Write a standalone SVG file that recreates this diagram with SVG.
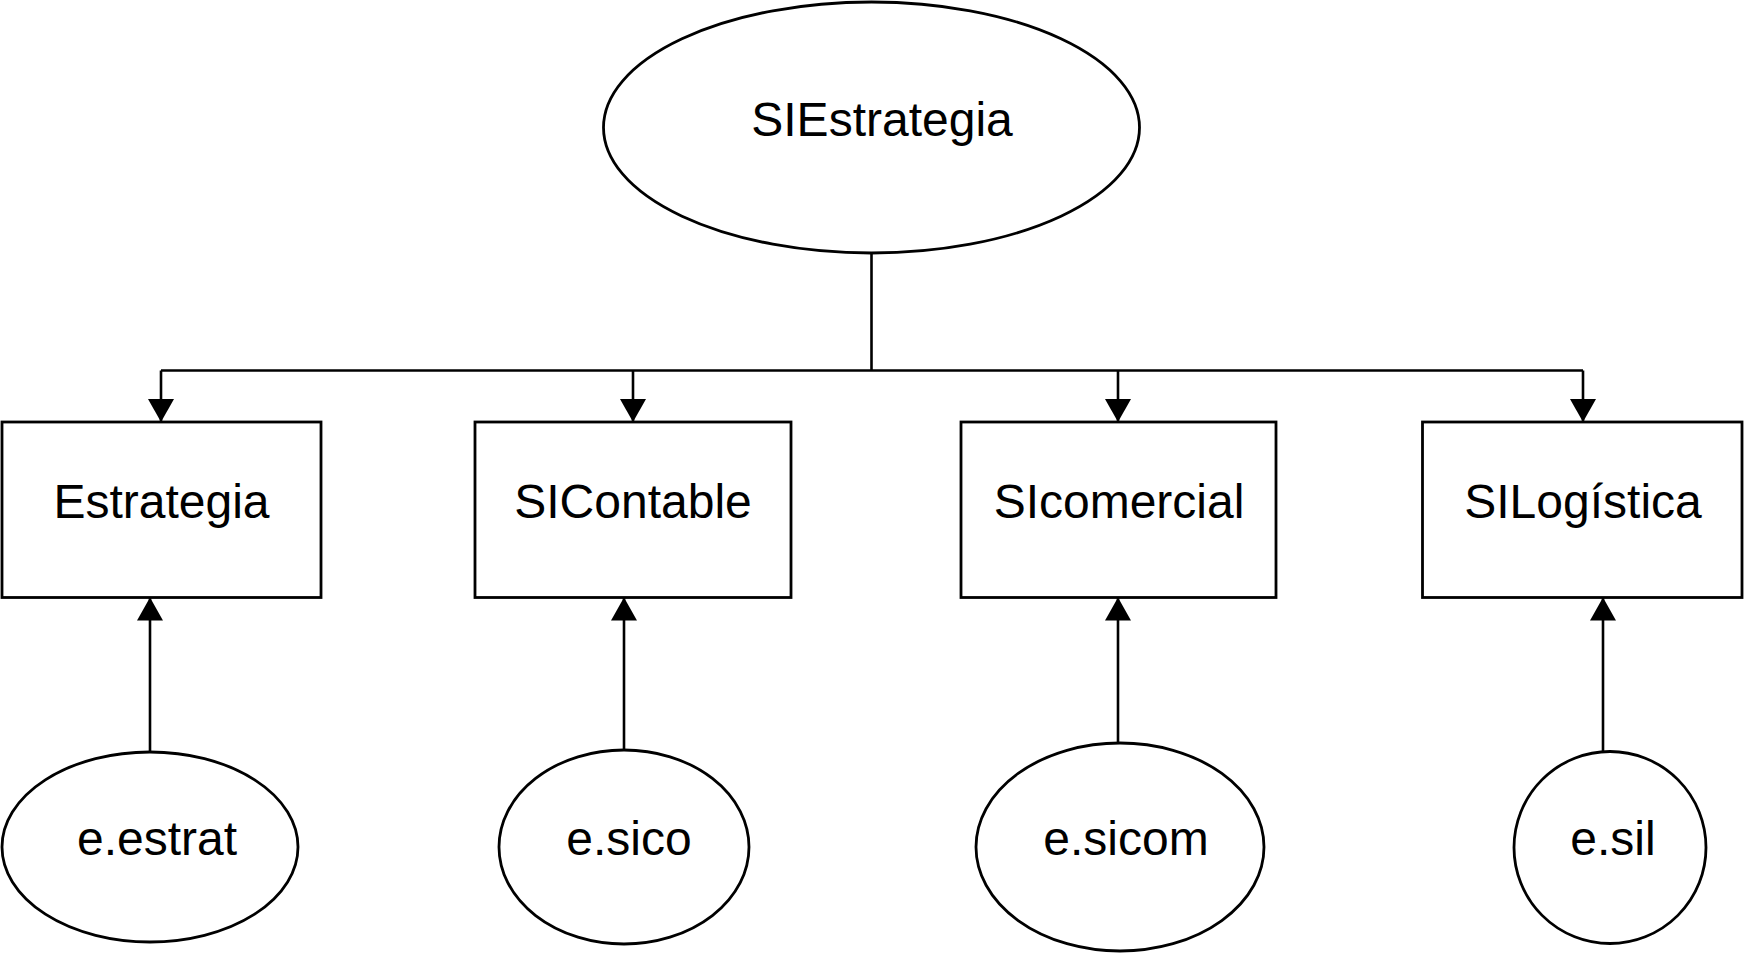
<svg xmlns="http://www.w3.org/2000/svg" width="1744" height="954" viewBox="0 0 1744 954">
  <style>
    .shape { fill: #ffffff; stroke: #000000; stroke-width: 2.8; }
    .conn { fill: none; stroke: #000000; stroke-width: 2.6; }
    .lbl { font-family: "Liberation Sans", Arial, Helvetica, sans-serif; font-size: 48px; fill: #000000; text-anchor: middle; }
  </style>
  <defs>
    <marker id="arrow" viewBox="0 0 23 26" refX="23" refY="13" markerWidth="23" markerHeight="26" markerUnits="userSpaceOnUse" orient="auto">
      <path d="M0,0 L23,13 L0,26 z" fill="#000000"/>
    </marker>
  </defs>
  <rect width="1744" height="954" fill="#ffffff"/>

  <g id="connectors">
    <path class="conn" d="M871.5,253 L871.5,370.5"/>
    <path class="conn" d="M161,370.5 L1583,370.5"/>
    <path class="conn" d="M161,370.5 L161,422" marker-end="url(#arrow)"/>
    <path class="conn" d="M633,370.5 L633,422" marker-end="url(#arrow)"/>
    <path class="conn" d="M1118,370.5 L1118,422" marker-end="url(#arrow)"/>
    <path class="conn" d="M1583,370.5 L1583,422" marker-end="url(#arrow)"/>
    <path class="conn" d="M150,752 L150,597.5" marker-end="url(#arrow)"/>
    <path class="conn" d="M624,750 L624,597.5" marker-end="url(#arrow)"/>
    <path class="conn" d="M1118,743 L1118,597.5" marker-end="url(#arrow)"/>
    <path class="conn" d="M1603,751.5 L1603,597.5" marker-end="url(#arrow)"/>
  </g>

  <g id="node-SIEstrategia">
    <ellipse class="shape" cx="871.5" cy="127.5" rx="268" ry="125.5"/>
    <text class="lbl" x="882" y="136">SIEstrategia</text>
  </g>

  <g id="node-Estrategia">
    <rect class="shape" x="2" y="422" width="319" height="175.5"/>
    <text class="lbl" x="161.5" y="518">Estrategia</text>
  </g>
  <g id="node-SIContable">
    <rect class="shape" x="475" y="422" width="316" height="175.5"/>
    <text class="lbl" x="633" y="518">SIContable</text>
  </g>
  <g id="node-SIcomercial">
    <rect class="shape" x="961" y="422" width="315" height="175.5"/>
    <text class="lbl" x="1119" y="518">SIcomercial</text>
  </g>
  <g id="node-SILogistica">
    <rect class="shape" x="1422.5" y="422" width="319.5" height="175.5"/>
    <text class="lbl" x="1583" y="518">SILogística</text>
  </g>

  <g id="node-e.estrat">
    <ellipse class="shape" cx="150" cy="847" rx="148" ry="95"/>
    <text class="lbl" x="157" y="855">e.estrat</text>
  </g>
  <g id="node-e.sico">
    <ellipse class="shape" cx="624" cy="847" rx="125" ry="97"/>
    <text class="lbl" x="629" y="855">e.sico</text>
  </g>
  <g id="node-e.sicom">
    <ellipse class="shape" cx="1120" cy="847" rx="144" ry="104"/>
    <text class="lbl" x="1126" y="855">e.sicom</text>
  </g>
  <g id="node-e.sil">
    <ellipse class="shape" cx="1610" cy="847.5" rx="96" ry="96"/>
    <text class="lbl" x="1613" y="855">e.sil</text>
  </g>
</svg>
